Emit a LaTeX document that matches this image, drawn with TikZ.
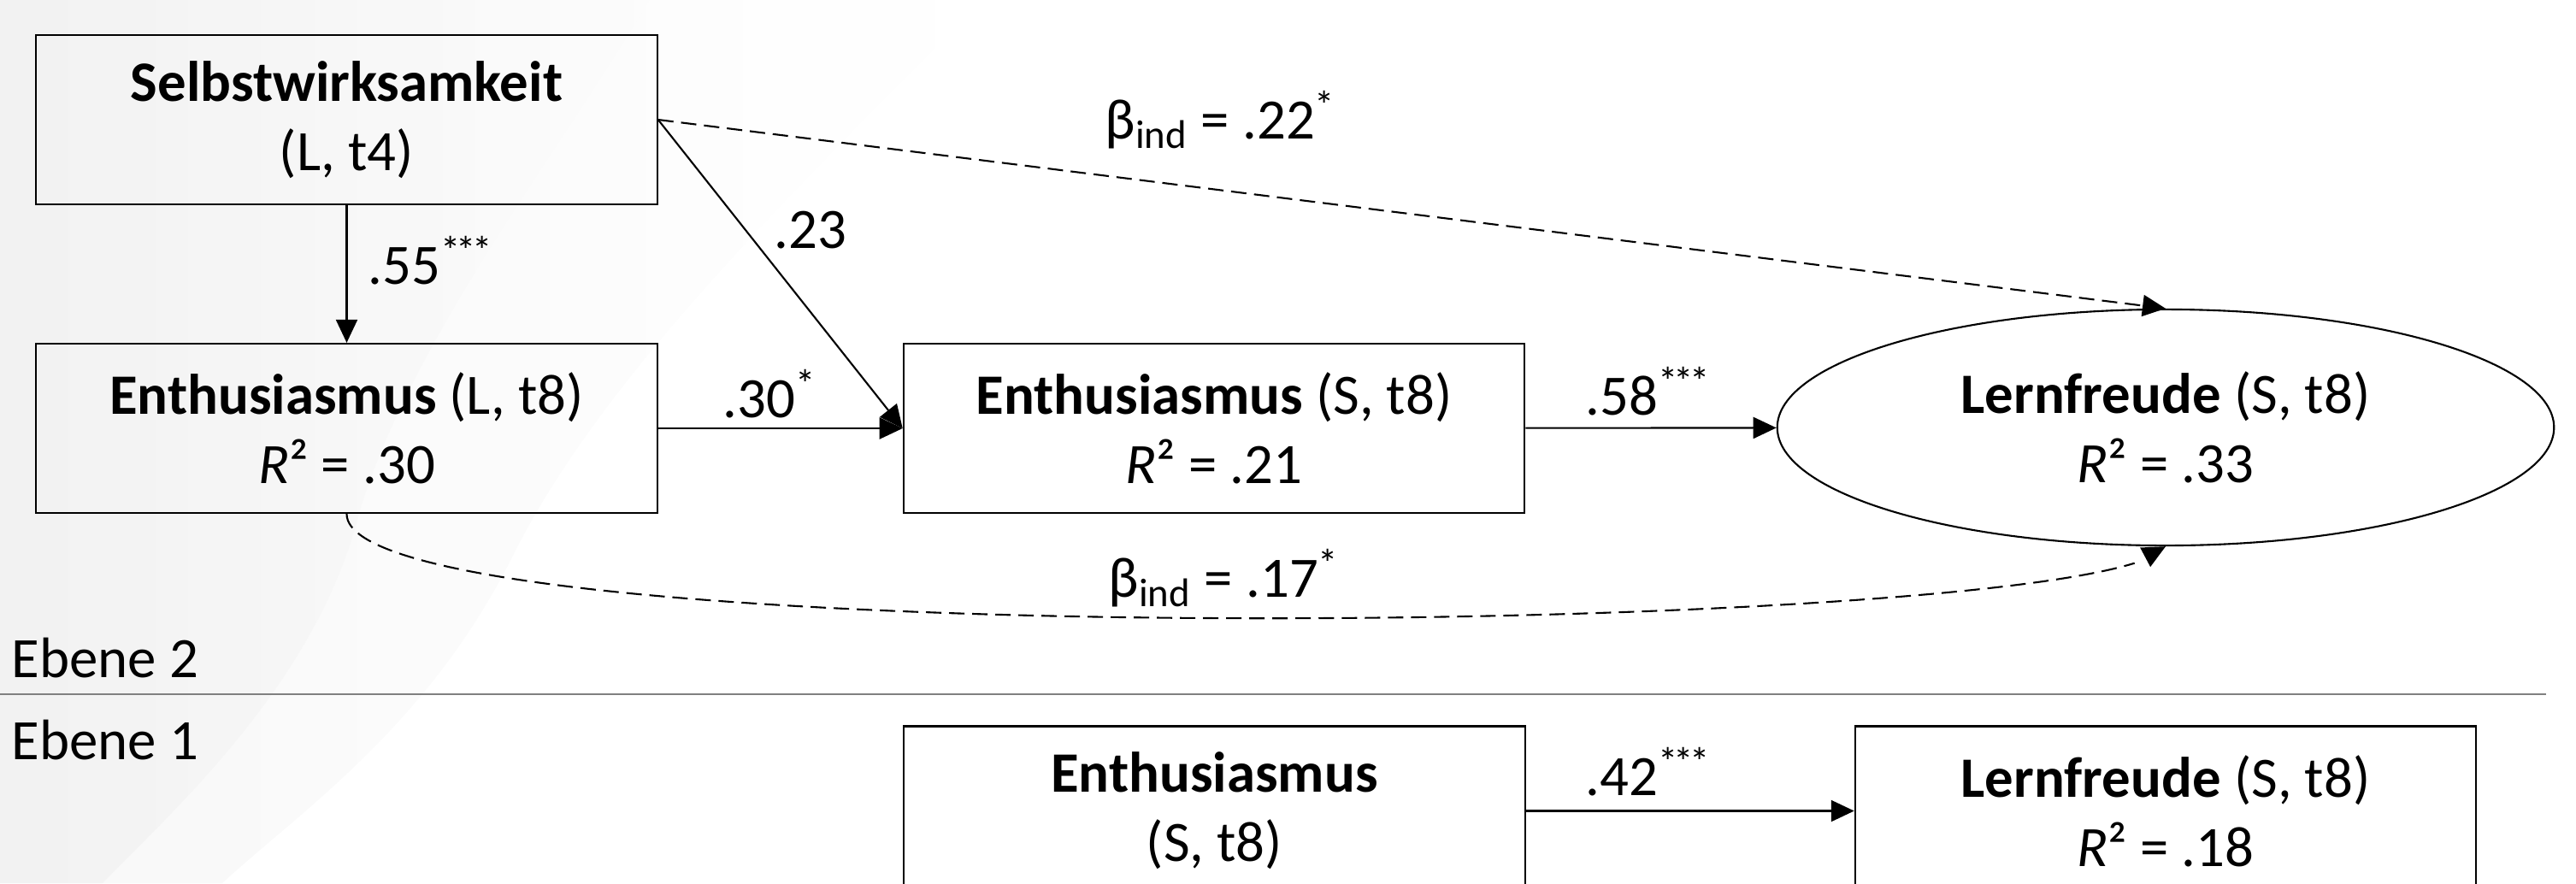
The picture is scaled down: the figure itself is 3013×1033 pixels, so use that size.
\documentclass[tikz,border=0pt]{standalone}
\usepackage{fontspec}
\setmainfont{Carlito}
\usetikzlibrary{arrows.meta,shapes.geometric,bending}
\newcommand\mystars{\textsuperscript{*\kern-0.1em*\kern-0.1em*}}
\newcommand\mystar{\textsuperscript{*}}
\begin{document}
\begin{tikzpicture}[x=0.01cm,y=-0.01cm,
  every node/.style={font=\fontsize{19}{23}\selectfont},
  box/.style={draw, line width=0.6pt, minimum width=7.26cm, minimum height=1.98cm, inner sep=0pt, align=center},
  oval/.style={draw, ellipse, line width=0.6pt, minimum width=9.08cm, minimum height=2.76cm, inner sep=0pt, align=center},
  lbl/.style={anchor=base west, inner sep=0pt},
  arr/.style={line width=0.6pt, -{Triangle[length=0.27cm,width=0.25cm]}},
  dsh/.style={arr, dash pattern=on 0.18cm off 0.09cm},
  sep/.style={draw=black!50, line width=0.8pt},
]
\useasboundingbox (0,0) rectangle (3013,1033);
\clip (0,0) rectangle (3013,1033);
% faint background blotch
\shade[left color=black!8, right color=white]
  (0,0) -- (760,0) .. controls (640,200) and (480,400) .. (420,600)
  .. controls (370,800) and (200,950) .. (120,1033) -- (0,1033) -- cycle;
\shade[left color=black!4, right color=white, opacity=0.7]
  (0,0) -- (1150,0) .. controls (900,250) and (700,450) .. (600,650)
  .. controls (500,850) and (350,950) .. (260,1033) -- (0,1033) -- cycle;

% level separator
\draw[sep] (0,812) -- (2978,812);
\node[lbl] (eb2) at (13,792) {Ebene 2};
\node[lbl] (eb1) at (13,888) {Ebene 1};

% nodes
\node[box] (selb) at (405.5,140) {\textbf{Selbstwirksamkeit}\\(L, t4)};
\node[box] (enthL) at (405.5,501) {\textbf{Enthusiasmus} (L, t8)\\\textit{R}² = .30};
\node[box] (enthS) at (1420,501) {\textbf{Enthusiasmus} (S, t8)\\\textit{R}² = .21};
\node[oval] (lern) at (2533,500) {\textbf{Lernfreude} (S, t8)\\\textit{R}² = .33};
\node[box] (enth1) at (1420.5,948.5) {\textbf{Enthusiasmus}\\(S, t8)};
\node[box] (lern1) at (2533,948.5) {\textbf{Lernfreude} (S, t8)\\\textit{R}² = .18};

% connectors
\draw[arr] (selb) -- (enthL);
\draw[arr] (selb.east) -- (enthS.west);
\draw[arr] (enthL) -- (enthS);
\draw[arr] (enthS) -- (lern);
\draw[arr] (enth1) -- (lern1);
\draw[dsh] (selb.east) -- (lern.north);
\draw[dsh] (enthL.south) .. controls (405,770) and (2470,745) .. (lern.south);

% labels
\node[lbl] (l55) at (430,332) {.55\mystars};
\node[lbl] (l23) at (905,290) {.23};
\node[lbl] (l30) at (845,488) {.30\mystar};
\node[lbl] (l58) at (1854,485) {.58\mystars};
\node[lbl] (l42) at (1854,930) {.42\mystars};
\node[lbl] (b22) at (1292,162) {β\textsubscript{ind} = .22\mystar};
\node[lbl] (b17) at (1296,698) {β\textsubscript{ind} = .17\mystar};
\end{tikzpicture}
\end{document}
